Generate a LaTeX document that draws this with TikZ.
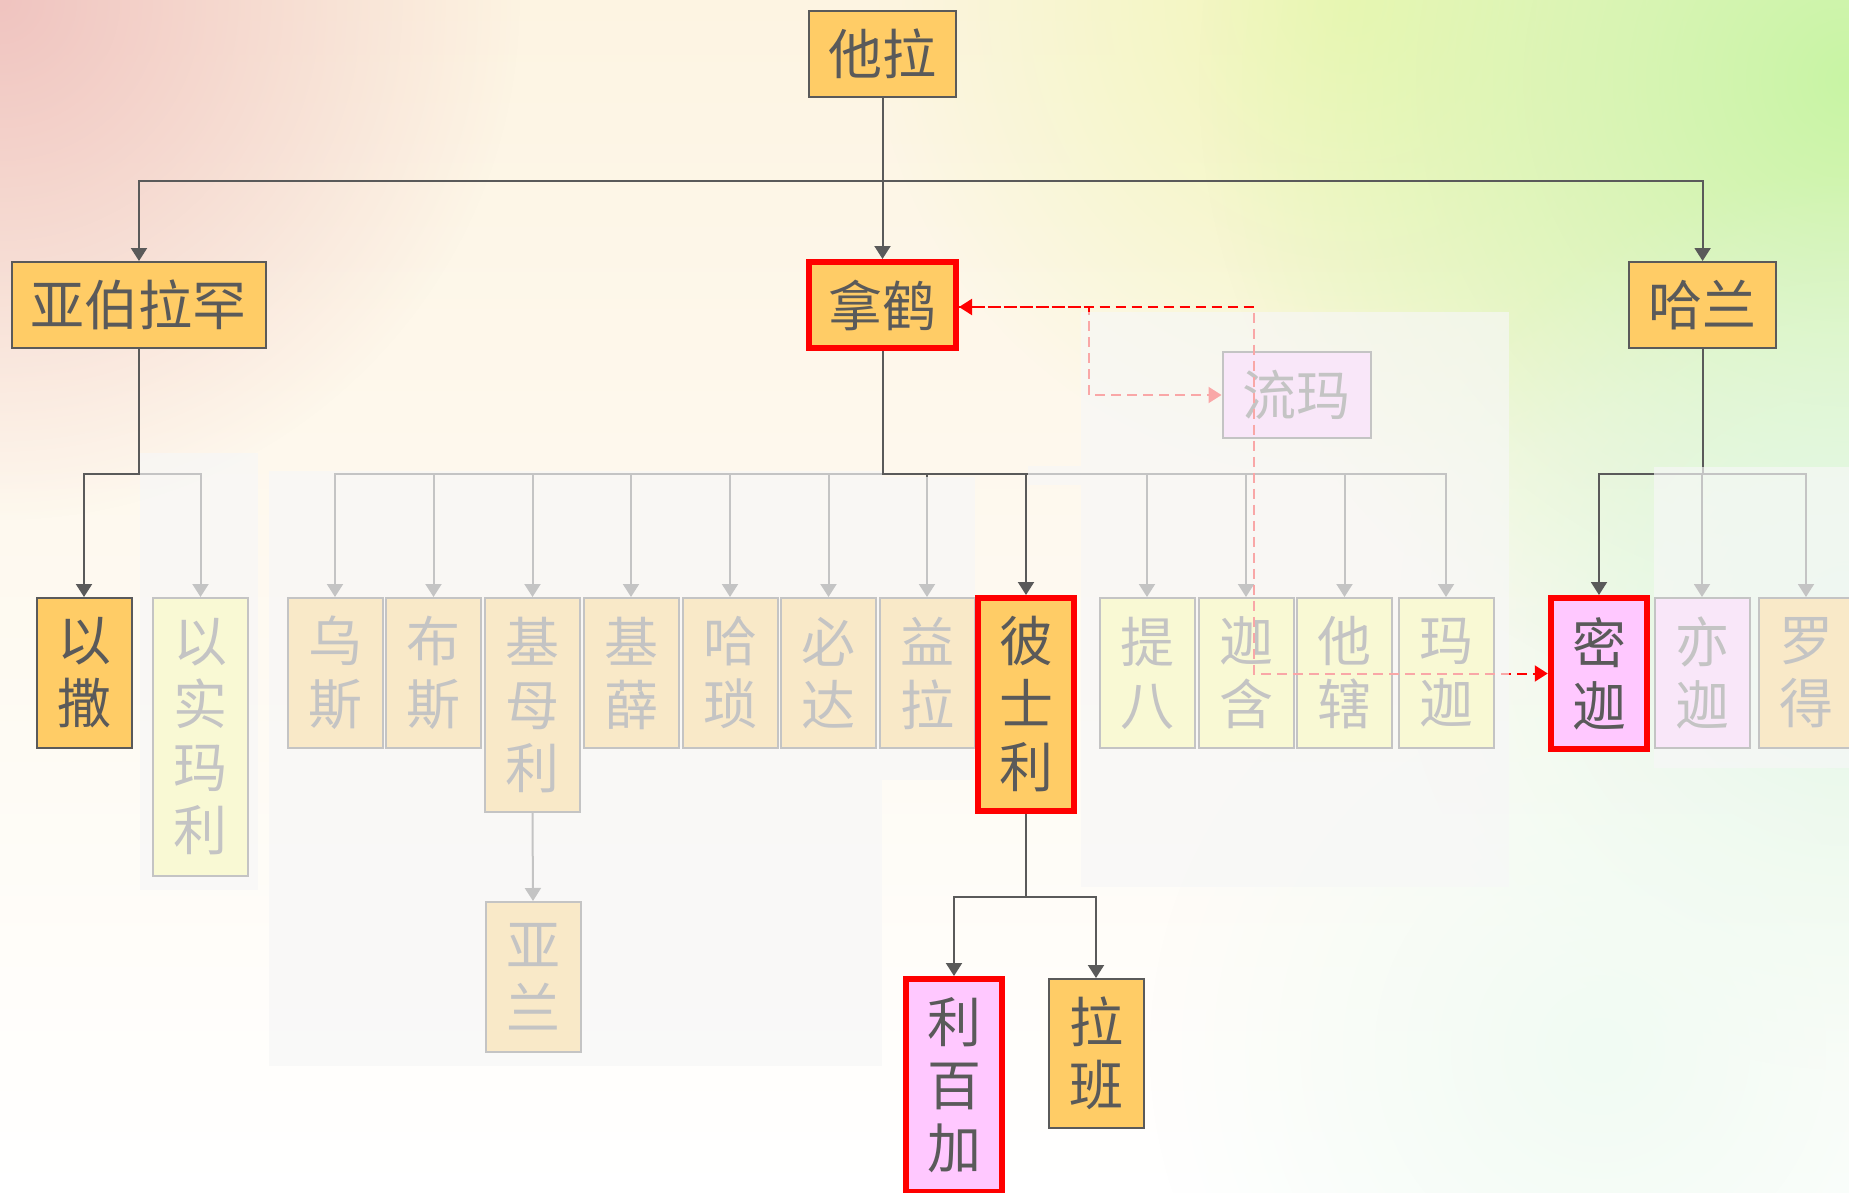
\documentclass[tikz,border=0pt]{standalone}
\usepackage{fontspec}
\newfontfamily\cjk{Noto Sans CJK SC}
\usetikzlibrary{arrows.meta,fadings}
\tikzfading[name=blobfade, inner color=transparent!0, outer color=transparent!100]
\definecolor{dk}{HTML}{5A5A5A}
\definecolor{orfill}{HTML}{FFCC66}
\definecolor{yefill}{HTML}{FFFF8C}
\definecolor{pkfill}{HTML}{FFC8FF}
\definecolor{ovl}{HTML}{F7F7F7}
\definecolor{hlred}{HTML}{FF0000}
\definecolor{bgtop}{HTML}{FDF4E2}
\definecolor{blobpink}{HTML}{F0C4C0}
\definecolor{blobyel}{HTML}{F0F8B6}
\definecolor{blobgrn}{HTML}{C8F4A4}
\definecolor{blobmint}{HTML}{E0F8E6}
\definecolor{blobpale}{HTML}{F1FBF3}
\tikzset{
  box/.style={draw=dk, line width=1pt, text=dk, inner sep=0pt, align=center,
    font=\cjk\fontsize{27pt}{31.5pt}\selectfont},
  orbox/.style={box, fill=orfill},
  yebox/.style={box, fill=yefill},
  pkbox/.style={box, fill=pkfill},
  hl/.style={draw=hlred, line width=3pt},
  wide/.style={minimum width=73.5pt, minimum height=43pt},
  two/.style={minimum width=47.5pt, minimum height=75pt},
  three/.style={minimum width=48pt, minimum height=106.5pt},
  four/.style={minimum width=47.5pt, minimum height=139pt},
  conn/.style={draw=dk, line width=1pt},
  tip/.style={-{Triangle[length=6.5pt,width=8pt]}},
  rdash/.style={draw=hlred, line width=1pt, dash pattern=on 5pt off 3pt},
  veil/.style={fill=ovl, opacity=0.68},
  blob/.style={fill=#1, path fading=blobfade},
}
\begin{document}
\begin{tikzpicture}[x=0.5pt,y=-0.5pt]
\useasboundingbox (0,0) rectangle (1849,1193);
% background
\shade[top color=bgtop, bottom color=white] (0,0) rectangle (1849,1193);
\begin{scope}
\clip (0,0) rectangle (1849,1193);
\fill[blob=blobpink] (0,0) circle (520);
\fill[blob=blobyel] (1350,0) circle (480);
\fill[blob=blobgrn] (1849,80) circle (650);
\fill[blob=blobmint] (1849,620) circle (450);
\fill[blob=blobpale] (1600,1050) circle (450);
\end{scope}

% generation 1
\node[orbox, wide] (tara) at (882.5,54) {他拉};
\node[orbox, minimum width=127pt, minimum height=43pt] (abraham) at (139,305) {亚伯拉罕};
\node[orbox, wide, hl] (nahor) at (882.5,305) {拿鹤};
\node[orbox, wide] (haran) at (1702.6,305) {哈兰};
\node[pkbox, minimum width=74pt, minimum height=43pt] (reumah) at (1296.5,395) {流玛};

% generation 2
\node[orbox, two] (isaac) at (84,673) {以\\撒};
\node[yebox, four] (ishmael) at (200.5,737) {以\\实\\玛\\利};
\node[orbox, two] (uz) at (335,673) {乌\\斯};
\node[orbox, two] (buz) at (433.5,673) {布\\斯};
\node[orbox, minimum width=47.5pt, minimum height=107pt] (kemuel) at (532.5,705) {基\\母\\利};
\node[orbox, two] (chesed) at (631,673) {基\\薛};
\node[orbox, two] (hazo) at (730,673) {哈\\琐};
\node[orbox, two] (pildash) at (828.5,673) {必\\达};
\node[orbox, two] (jidlaph) at (927,673) {益\\拉};
\node[orbox, three, hl] (bethuel) at (1026,704.5) {彼\\士\\利};
\node[yebox, two] (tebah) at (1147,673) {提\\八};
\node[yebox, two] (gaham) at (1246,673) {迦\\含};
\node[yebox, two] (thahash) at (1344.5,673) {他\\辖};
\node[yebox, two] (maachah) at (1446,673) {玛\\迦};
\node[pkbox, minimum width=48.25pt, minimum height=75.5pt, hl] (milcah) at (1599,673.5) {密\\迦};
\node[pkbox, two] (iscah) at (1702,673) {亦\\迦};
\node[orbox, two] (lot) at (1806,673) {罗\\得};

% generation 3
\node[orbox, two] (aram) at (533,977) {亚\\兰};
\node[pkbox, three, hl] (rebekah) at (954,1085.5) {利\\百\\加};
\node[orbox, minimum width=47.5pt, minimum height=74.5pt] (laban) at (1096,1053.5) {拉\\班};

% connectors from 他拉
\coordinate (tb) at (882.5,181);
\draw[conn, tip] (tara.south) -- (nahor.north);
\draw[conn, tip] (tb) -| (abraham.north);
\draw[conn, tip] (tb) -| (haran.north);

% 亚伯拉罕
\coordinate (ab) at (139,474);
\draw[conn] (abraham.south) -- (ab);
\draw[conn, tip] (ab) -| (isaac.north);
\draw[conn, tip] (ab) -| (ishmael.north);

% 拿鹤
\coordinate (nb) at (882.5,474);
\draw[conn] (nahor.south) -- (nb);
\foreach \c in {uz,buz,kemuel,chesed,hazo,pildash,jidlaph,bethuel,tebah,gaham,thahash,maachah}
  \draw[conn, tip] (nb) -| (\c.north);

% 哈兰
\coordinate (hb) at (1702.6,474);
\draw[conn] (haran.south) -- (hb);
\foreach \c in {milcah,iscah,lot}
  \draw[conn, tip] (hb) -| (\c.north);

% 基母利 -> 亚兰
\draw[conn, tip] (kemuel.south) -- (aram.north);

% 彼士利
\coordinate (bb) at (1026,897);
\draw[conn] (bethuel.south) -- (bb);
\draw[conn, tip] (bb) -| (rebekah.north);
\draw[conn, tip] (bb) -| (laban.north);

% dashed marriage links
\coordinate (mk) at (1254,307);
\coordinate (rk) at (1089,307);
\draw[rdash, {Triangle[length=6.5pt,width=8pt]}-{Triangle[length=6.5pt,width=8pt]}]
  (nahor.east |- mk) -- (mk) |- (milcah.west);
\draw[rdash, tip] (nahor.east |- rk) -- (rk) |- (reumah.west);

% veils over the faded parts
\fill[veil] (139.5,453) rectangle (258,890);
\fill[veil] (269,471) rectangle (882,1066);
\fill[veil] (882,477) rectangle (975,780);
\fill[veil] (1028,466) rectangle (1081,485);
\fill[veil] (1081,312) rectangle (1509,887);
\fill[veil] (1654,467) rectangle (1849,768);
\end{tikzpicture}
\end{document}
